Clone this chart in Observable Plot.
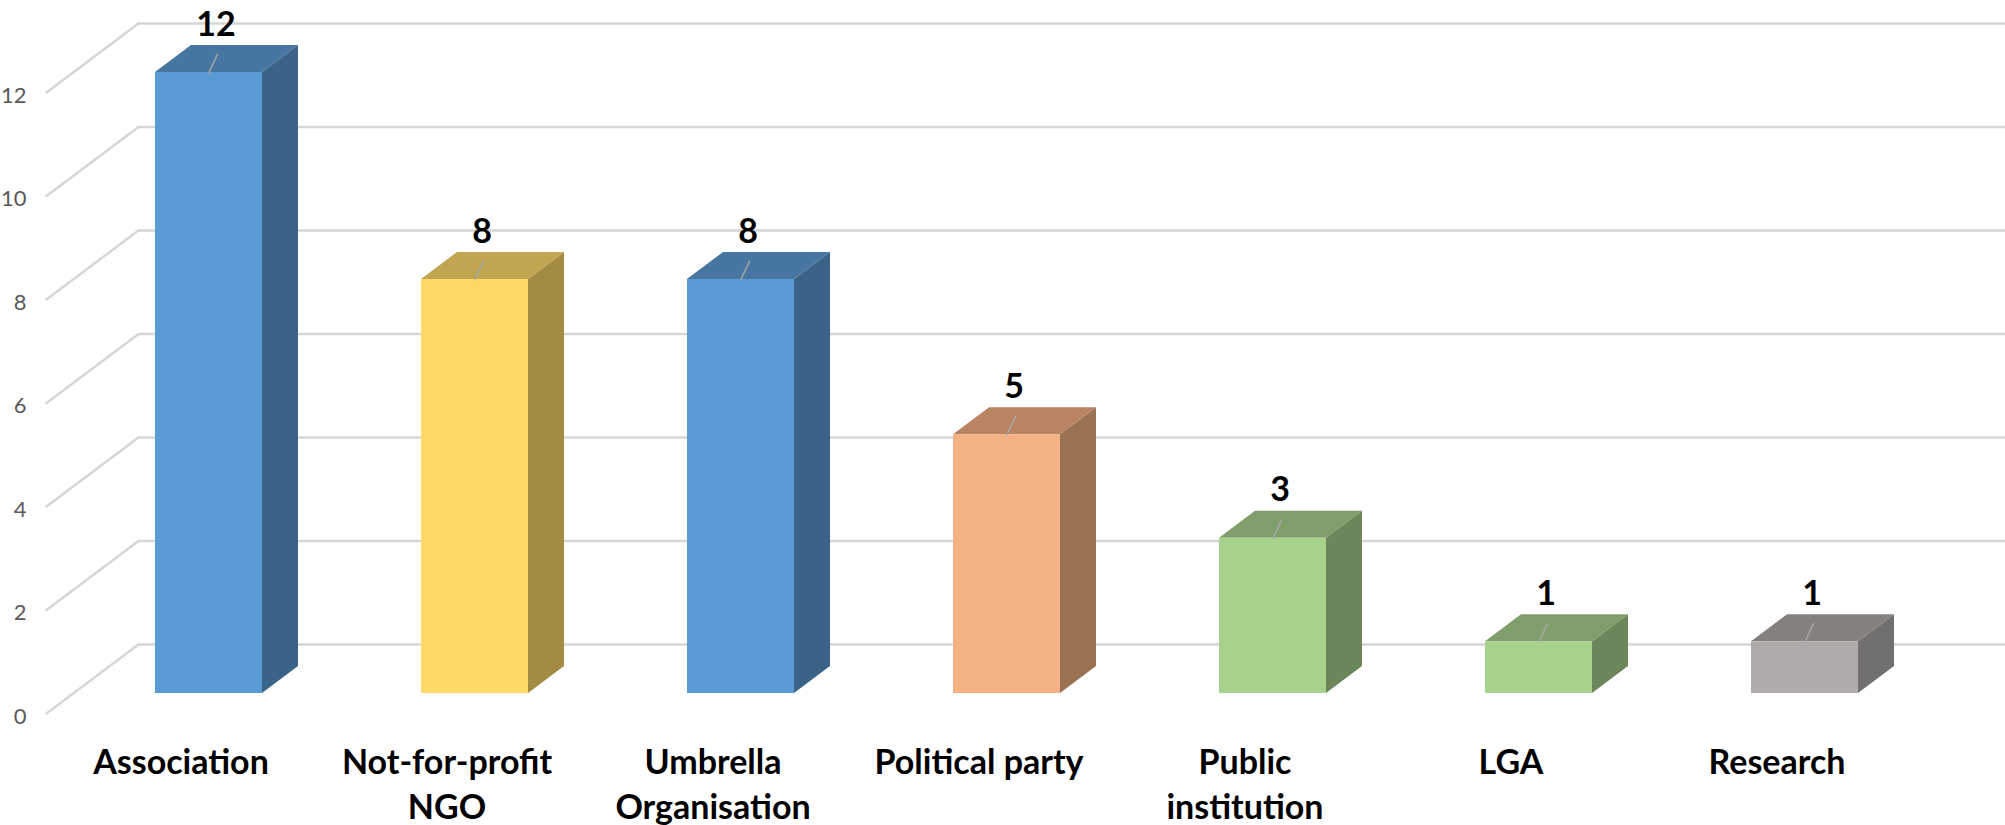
<!DOCTYPE html>
<html>
<head>
<meta charset="utf-8">
<script src="https://cdn.jsdelivr.net/npm/d3@7"></script>
<script src="https://cdn.jsdelivr.net/npm/@observablehq/plot@0.6"></script>
<style>
html, body { margin: 0; padding: 0; background: #ffffff; overflow: hidden; }
#chart svg { display: block; }
</style>
</head>
<body>
<div id="chart"></div>
<script>
// ---- data ----
const categories = ["Association", "Not-for-profit NGO", "Umbrella Organisation", "Political party", "Public institution", "LGA", "Research"];
const values = [12, 8, 8, 5, 3, 1, 1];
const tickLabels = ["Association", "Not-for-profit\nNGO", "Umbrella\nOrganisation", "Political party", "Public\ninstitution", "LGA", "Research"];
const yTicks = [0, 2, 4, 6, 8, 10, 12];

// ---- styles ----
const frontColors = ["#5B9BD5", "#FFD966", "#5B9BD5", "#F4B183", "#A9D18E", "#A9D18E", "#AFABAB"];
const topColors   = ["#4676A1", "#C0A650", "#4676A1", "#B98462", "#809E6B", "#809E6B", "#85817F"];
const sideColors  = ["#3A6487", "#A38B42", "#3A6487", "#9A7151", "#6B8759", "#6B8759", "#72706F"];
const gridColor = "#d6d6d6";
const depthX = 36, depthY = 27;   // bar extrusion (px)
const wallShift = -49;            // back wall offset from bar baseline (px)
const floorShift = 20;            // front floor edge offset (px)

const data = categories.map((c, i) => ({category: c, value: values[i], label: tickLabels[i], idx: i}));

// Render transform: draws the front bar with Plot, then adds top and side faces
function extrude(index, scales, channels, dimensions, context, next) {
  const g = next(index, scales, channels, dimensions, context);
  const ns = "http://www.w3.org/2000/svg";
  const rects = Array.from(g.querySelectorAll("rect"));
  rects.forEach((rect, j) => {
    const i = index[j];
    const x = +rect.getAttribute("x"), y = +rect.getAttribute("y");
    const w = +rect.getAttribute("width"), h = +rect.getAttribute("height");
    const side = document.createElementNS(ns, "path");
    side.setAttribute("d", `M${x + w},${y}L${x + w + depthX},${y - depthY}L${x + w + depthX},${y + h - depthY}L${x + w},${y + h}Z`);
    side.setAttribute("fill", sideColors[data[i].idx]);
    const top = document.createElementNS(ns, "path");
    top.setAttribute("d", `M${x},${y}L${x + w},${y}L${x + w + depthX},${y - depthY}L${x + depthX},${y - depthY}Z`);
    top.setAttribute("fill", topColors[data[i].idx]);
    rect.parentNode.insertBefore(side, rect);
    rect.parentNode.insertBefore(top, rect);
  });
  return g;
}

const lineShape = {draw(context, l) { context.moveTo(0, 0); context.lineTo(0, -l); }};

const chart = Plot.plot({
  width: 2005,
  height: 825,
  marginTop: 72,
  marginBottom: 132,
  marginLeft: 138,
  marginRight: 0,
  style: {fontFamily: "Lato, 'Open Sans', sans-serif", background: "#ffffff"},
  x: {domain: categories, paddingInner: 0.599, paddingOuter: 0.2958, align: 0.101, axis: null},
  y: {domain: [0, 12], axis: null},
  marks: [
    // back wall gridlines
    Plot.ruleY(yTicks, {y: d => d, dy: wallShift, stroke: gridColor, strokeWidth: 2.5}),
    // side wall diagonals
    Plot.vector(yTicks, {y: d => d, dy: wallShift, frameAnchor: "left", anchor: "start",
      length: 115, rotate: 233.13, shape: lineShape, stroke: gridColor, strokeWidth: 2.5}),
    // y tick labels on the front edge
    Plot.text(yTicks, {y: d => d, text: d => String(d), frameAnchor: "left", textAnchor: "end",
      dx: -112, dy: floorShift + 3, fontSize: 22, fill: "#595959"}),
    // 3D bars
    Plot.barY(data, {x: "category", y: "value", fill: d => frontColors[d.idx], render: extrude}),
    // leader lines
    Plot.vector(data, {x: "category", y: "value", anchor: "start", length: 20, rotate: 25,
      shape: lineShape, stroke: "#a6a6a6", strokeWidth: 1.5}),
    // value labels
    Plot.text(data, {x: "category", y: "value", text: d => String(d.value), dx: 7, dy: -37,
      lineAnchor: "bottom", fontSize: 34, fontWeight: 700, fill: "#000000"}),
    // category labels
    Plot.text(data, {x: "category", text: "label", frameAnchor: "bottom", lineAnchor: "top",
      dy: 49, dx: -28, fontSize: 34, fontWeight: 700, lineHeight: 1.32, fill: "#000000"})
  ]
});

document.getElementById("chart").appendChild(chart);
</script>
</body>
</html>
